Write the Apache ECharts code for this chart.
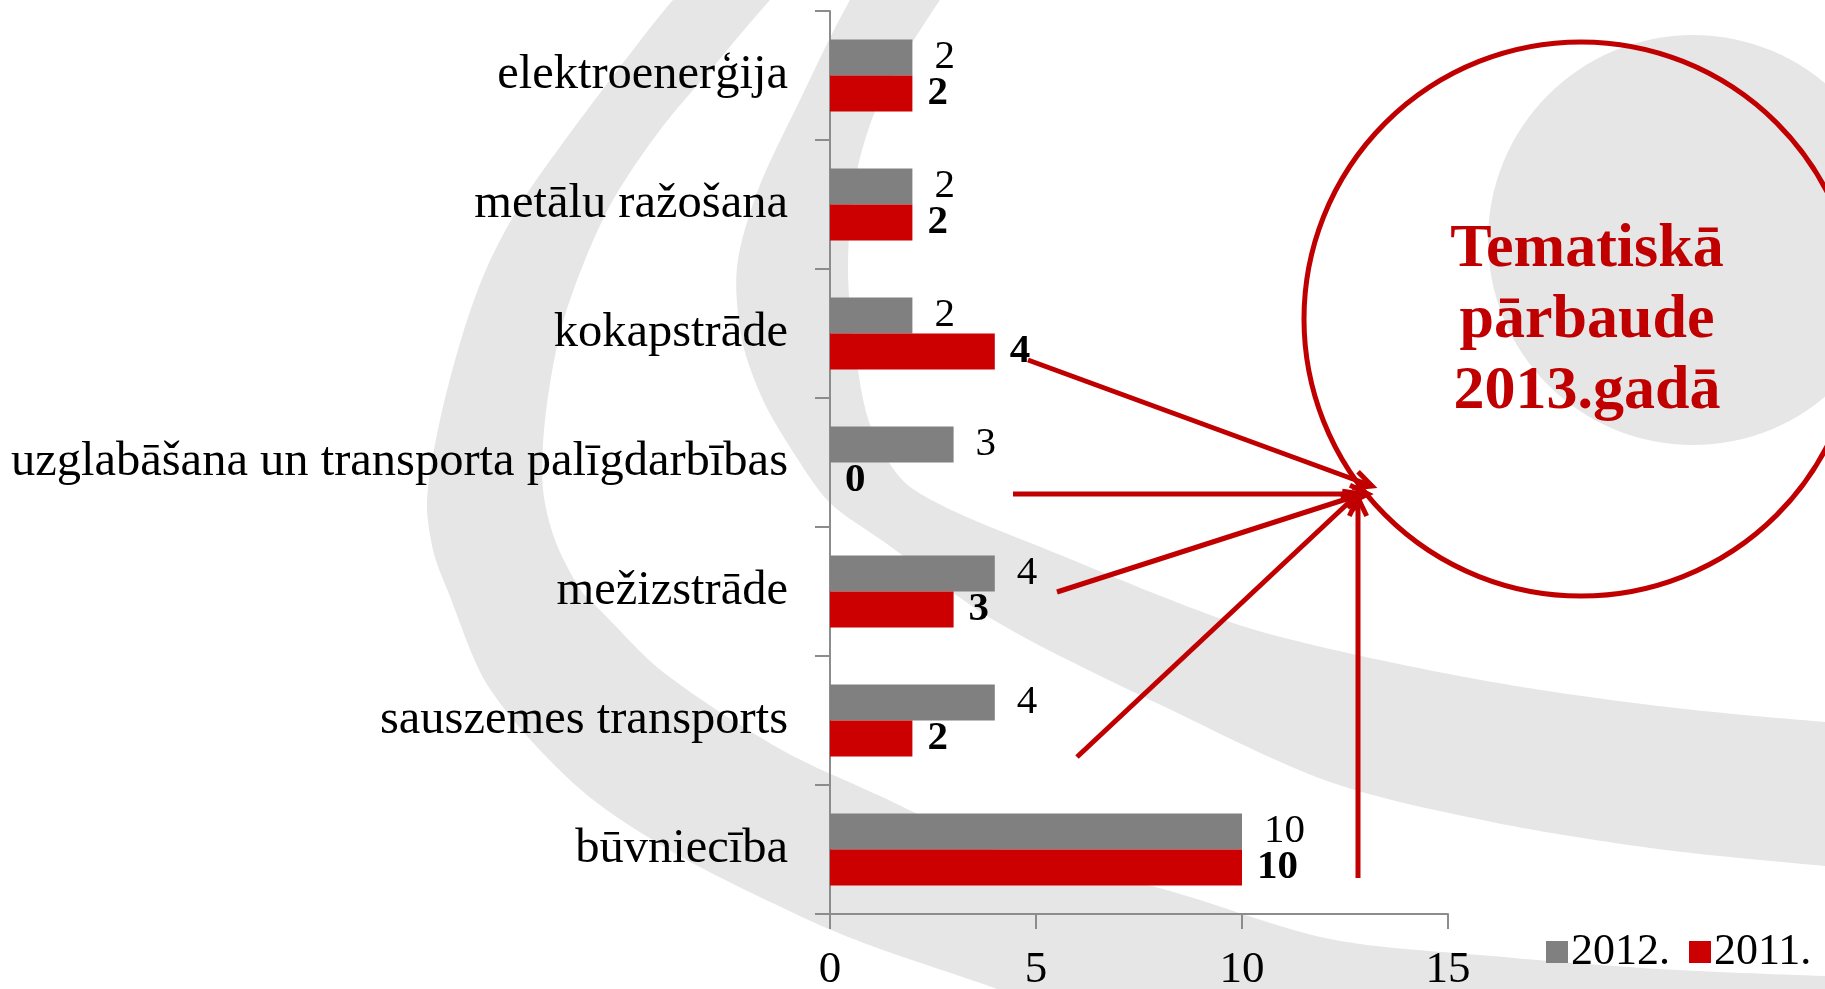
<!DOCTYPE html>
<html>
<head>
<meta charset="utf-8">
<script src="https://cdn.jsdelivr.net/npm/echarts@6/dist/echarts.min.js"></script>
<style>
  html, body { margin: 0; padding: 0; background: #ffffff; }
  #chart { width: 1825px; height: 989px; }
</style>
</head>
<body>
<div id="chart"></div>
<script>
// ---- data ----
const categories = [
  'elektroenerģija',
  'metālu ražošana',
  'kokapstrāde',
  'uzglabāšana un transporta palīgdarbības',
  'mežizstrāde',
  'sauszemes transports',
  'būvniecība'
];
const seriesNames = ['2012.', '2011.'];
const values2012 = [2, 2, 2, 3, 4, 4, 10];
const values2011 = [2, 2, 4, 0, 3, 2, 10];
const xMin = 0, xMax = 15, xInterval = 5;
const annotationText = 'Tematiskā\npārbaude\n2013.gadā';

// ---- decoration (background logo swooshes, annotation) ----
const BG = '#e6e6e6';
const ANN = '#c00000';
const band1 = [[715,-40],[673,0],[620,67],[565,140],[523,200],[488,265],[463,333],[440,420],[427,500],[433,550],[447,589],[490,689],[580,789],[680,856],[813,922],[880,949],[997,989],[1100,1030],[1900,1030],
  [1900,978],[1825,976],[1658,969],[1492,956],[1330,939],[1163,889],[997,849],[880,796],[780,749],[663,672],[600,610],[580,589],[555,540],[543,489],[545,420],[560,333],[583,265],[613,200],[660,130],[713,67],[770,0],[810,-40]];
const band2 = [[880,-40],[850,0],[800,100],[758,190],[737,267],[742,340],[763,400],[795,455],[830,503],[880,539],[997,622],[1163,706],[1330,782],[1492,822],[1658,849],[1825,866],[1900,872],
  [1900,726],[1825,722],[1658,706],[1492,682],[1330,649],[1230,622],[1063,556],[913,489],[872,430],[855,350],[848,270],[855,180],[880,100],[940,0],[975,-40]];
const arrows = [
  [[1028,360],[1372,486]],
  [[1013,494],[1368,494]],
  [[1057,592],[1362,494]],
  [[1077,757],[1360,492]],
  [[1358,878],[1358,498]]
];

function headPts(from, tip, len, ang) {
  const a = Math.atan2(tip[1] - from[1], tip[0] - from[0]);
  return [
    [tip[0] - len * Math.cos(a - ang), tip[1] - len * Math.sin(a - ang)],
    tip,
    [tip[0] - len * Math.cos(a + ang), tip[1] - len * Math.sin(a + ang)]
  ];
}

const graphics = [
  { type: 'polygon', z: -10, silent: true, shape: { points: band1, smooth: 0.3 }, style: { fill: BG } },
  { type: 'polygon', z: -10, silent: true, shape: { points: band2, smooth: 0.3 }, style: { fill: BG } },
  { type: 'circle', z: -10, silent: true, shape: { cx: 1693, cy: 240, r: 205 }, style: { fill: BG } },
  { type: 'circle', z: 20, silent: true, shape: { cx: 1581, cy: 319, r: 277 }, style: { fill: 'none', stroke: ANN, lineWidth: 5 } },
  { type: 'text', z: 20, silent: true, x: 1587, y: 321,
    style: { text: annotationText, fill: ANN, fontFamily: 'Liberation Serif', fontWeight: 'bold', fontSize: 62,
             lineHeight: 71, align: 'center', verticalAlign: 'middle' } }
];
arrows.forEach(function (a) {
  graphics.push({ type: 'line', z: 20, silent: true,
    shape: { x1: a[0][0], y1: a[0][1], x2: a[1][0], y2: a[1][1] },
    style: { stroke: ANN, lineWidth: 5 } });
  graphics.push({ type: 'polyline', z: 20, silent: true,
    shape: { points: headPts(a[0], a[1], 20, Math.PI / 7) },
    style: { stroke: ANN, lineWidth: 5, fill: 'none' } });
});

const chart = echarts.init(document.getElementById('chart'), null, { renderer: 'canvas' });
const FONT = 'Liberation Serif';
chart.setOption({
  backgroundColor: '#ffffff',
  animation: false,
  textStyle: { fontFamily: FONT, color: '#000' },
  grid: { left: 830, right: 377, top: 11, bottom: 75, containLabel: false, outerBoundsMode: 'none' },
  legend: {
    data: seriesNames,
    left: 1541, top: 925,
    icon: 'rect', itemWidth: 22, itemHeight: 22, itemGap: 19,
    textStyle: { fontFamily: FONT, fontSize: 44, color: '#000', padding: [0, 0, 0, -2] }
  },
  xAxis: {
    type: 'value', min: xMin, max: xMax, interval: xInterval,
    axisLine: { show: true, lineStyle: { color: '#8c8c8c', width: 2 } },
    axisTick: { show: true, length: 15, lineStyle: { color: '#8c8c8c', width: 2 } },
    splitLine: { show: false },
    axisLabel: { fontFamily: FONT, fontSize: 45, color: '#000', margin: 34 }
  },
  yAxis: {
    type: 'category', inverse: true, data: categories,
    axisLine: { show: true, lineStyle: { color: '#8c8c8c', width: 2 } },
    axisTick: { show: true, length: 15, lineStyle: { color: '#8c8c8c', width: 2 } },
    axisLabel: { fontFamily: FONT, fontSize: 48.5, color: '#000', margin: 42 }
  },
  series: [
    {
      name: seriesNames[0], type: 'bar', data: values2012,
      barGap: '0%', barCategoryGap: '44%',
      itemStyle: { color: '#808080' },
      label: { show: true, position: 'right', distance: 22, fontFamily: FONT, fontSize: 41, color: '#000' }
    },
    {
      name: seriesNames[1], type: 'bar', data: values2011,
      barGap: '0%', barCategoryGap: '44%',
      itemStyle: { color: '#cc0000' },
      label: { show: true, position: 'right', distance: 15, fontFamily: FONT, fontSize: 41, fontWeight: 'bold', color: '#000' }
    }
  ],
  graphic: graphics
});
</script>
</body>
</html>
